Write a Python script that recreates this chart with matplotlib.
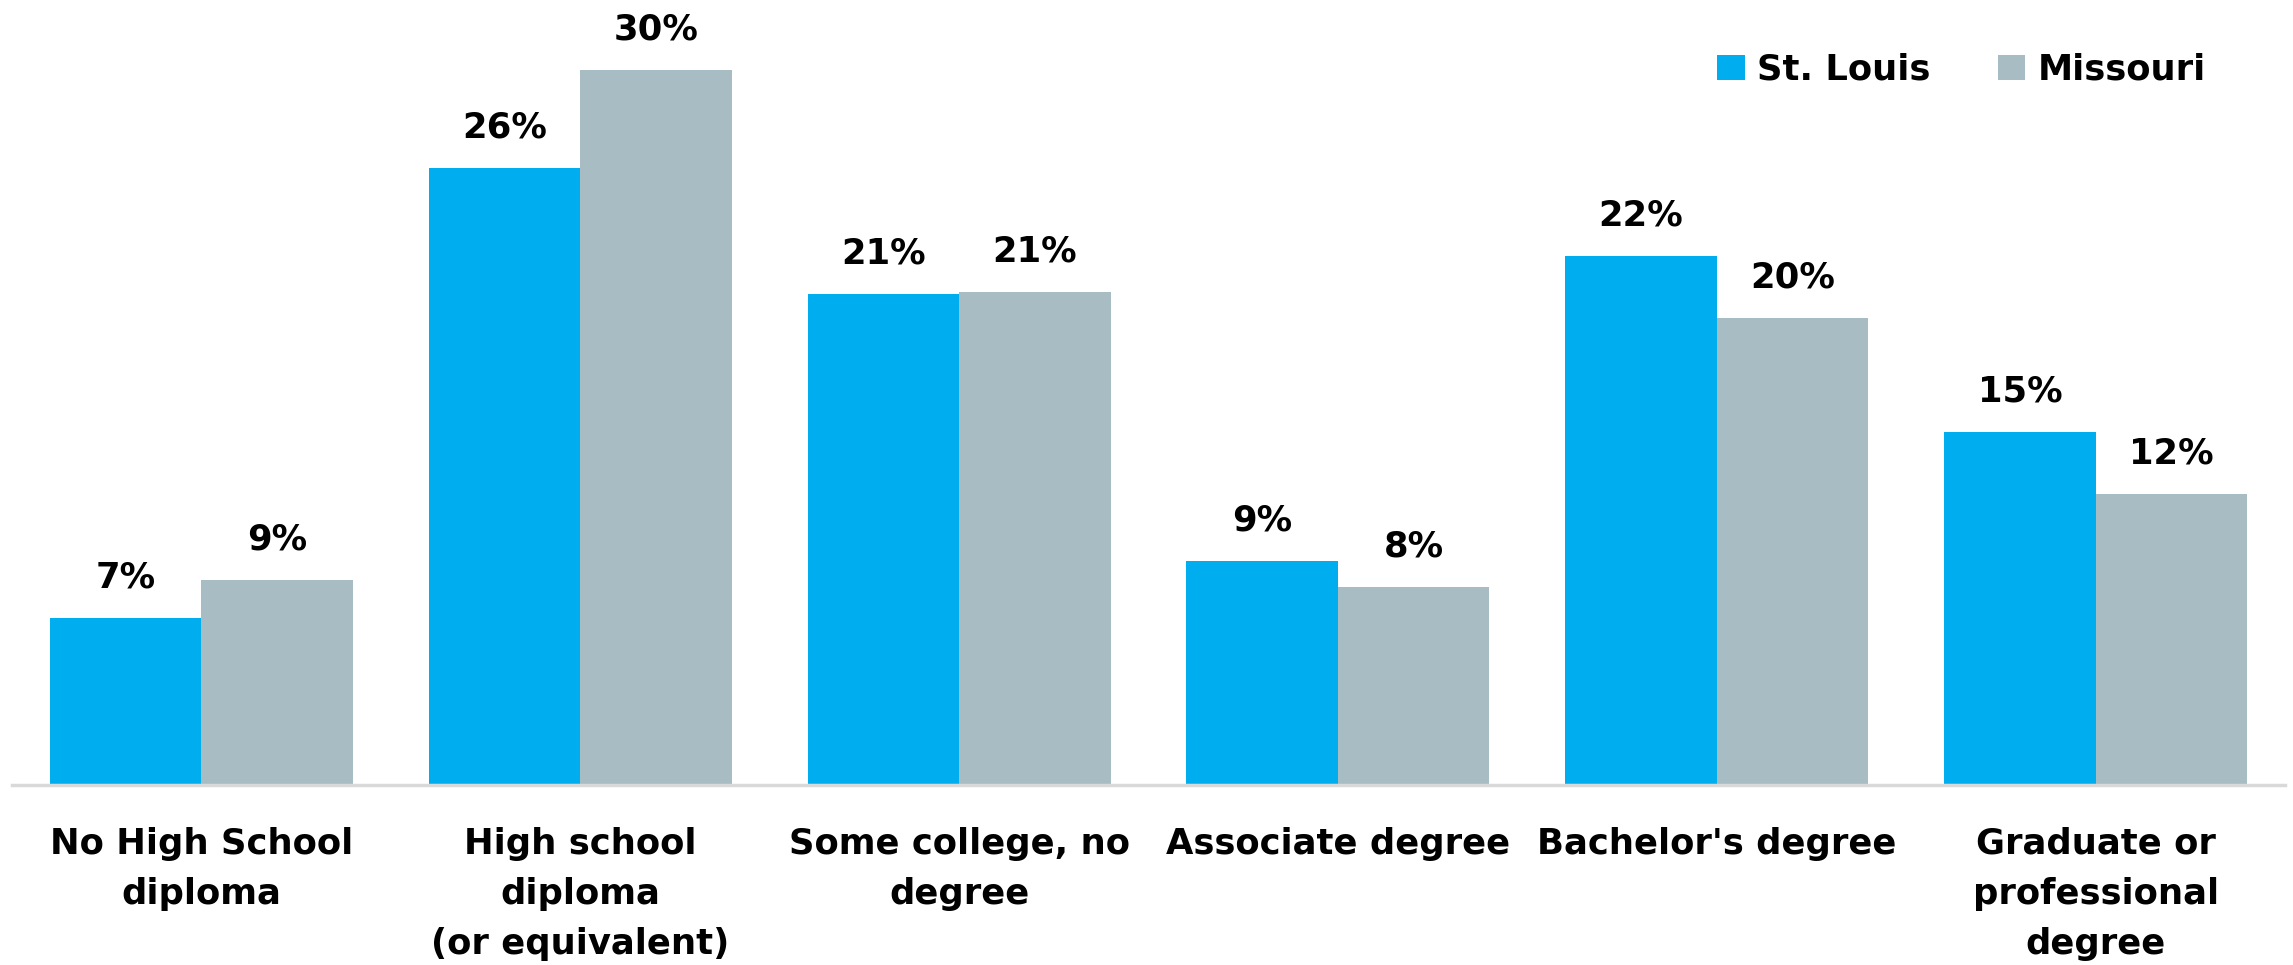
import matplotlib.pyplot as plt
import numpy as np

# Educational attainment, St. Louis vs Missouri (percent of adults 25+)
categories = [
    "No High School\ndiploma",
    "High school\ndiploma\n(or equivalent)",
    "Some college, no\ndegree",
    "Associate degree",
    "Bachelor's degree",
    "Graduate or\nprofessional\ndegree",
]
st_louis = [7.0, 25.9, 20.6, 9.4, 22.2, 14.8]
missouri = [8.6, 30.0, 20.7, 8.3, 19.6, 12.2]

blue = "#00AEEF"
grey = "#A7BCC3"

plt.rcParams['font.family'] = ['DejaVu Sans']
plt.rcParams['font.weight'] = 'bold'

fig = plt.figure(figsize=(22.93, 9.65), dpi=100)
ax = fig.add_axes([12 / 2293, 180 / 965, 2273 / 2293, 785 / 965])

x = np.arange(len(categories))
width = 0.40
b1 = ax.bar(x - width / 2, st_louis, width, color=blue, label="St. Louis")
b2 = ax.bar(x + width / 2, missouri, width, color=grey, label="Missouri")

# value labels above each bar
for bars, vals in [(b1, st_louis), (b2, missouri)]:
    for bar, v in zip(bars, vals):
        ax.annotate(f"{v:.0f}%",
                    xy=(bar.get_x() + bar.get_width() / 2, v),
                    xytext=(0, 22), textcoords="offset points",
                    ha="center", va="baseline",
                    fontsize=25.5, fontweight="bold", color="black")

ax.set_xlim(-0.5, 5.5)
ax.set_ylim(0, 32.94)
ax.set_xticks(x)
ax.set_xticklabels(categories, fontsize=25.5, fontweight="bold",
                   linespacing=1.6, va="top")
ax.tick_params(axis="x", length=0, pad=30)
ax.set_yticks([])

for side in ["top", "right", "left"]:
    ax.spines[side].set_visible(False)
ax.spines["bottom"].set_color("#d9d9d9")
ax.spines["bottom"].set_linewidth(2.5)

fig.legend(handles=[b1, b2], labels=["St. Louis", "Missouri"],
           loc="center left", bbox_to_anchor=(1717 / 2293, 1 - 70 / 965),
           ncol=2, frameon=False,
           prop={"weight": "bold", "size": 25.5},
           handlelength=0.78, handleheight=0.7, handletextpad=0.35,
           columnspacing=1.9, borderpad=0, borderaxespad=0)

plt.savefig("out.png", dpi=100)
